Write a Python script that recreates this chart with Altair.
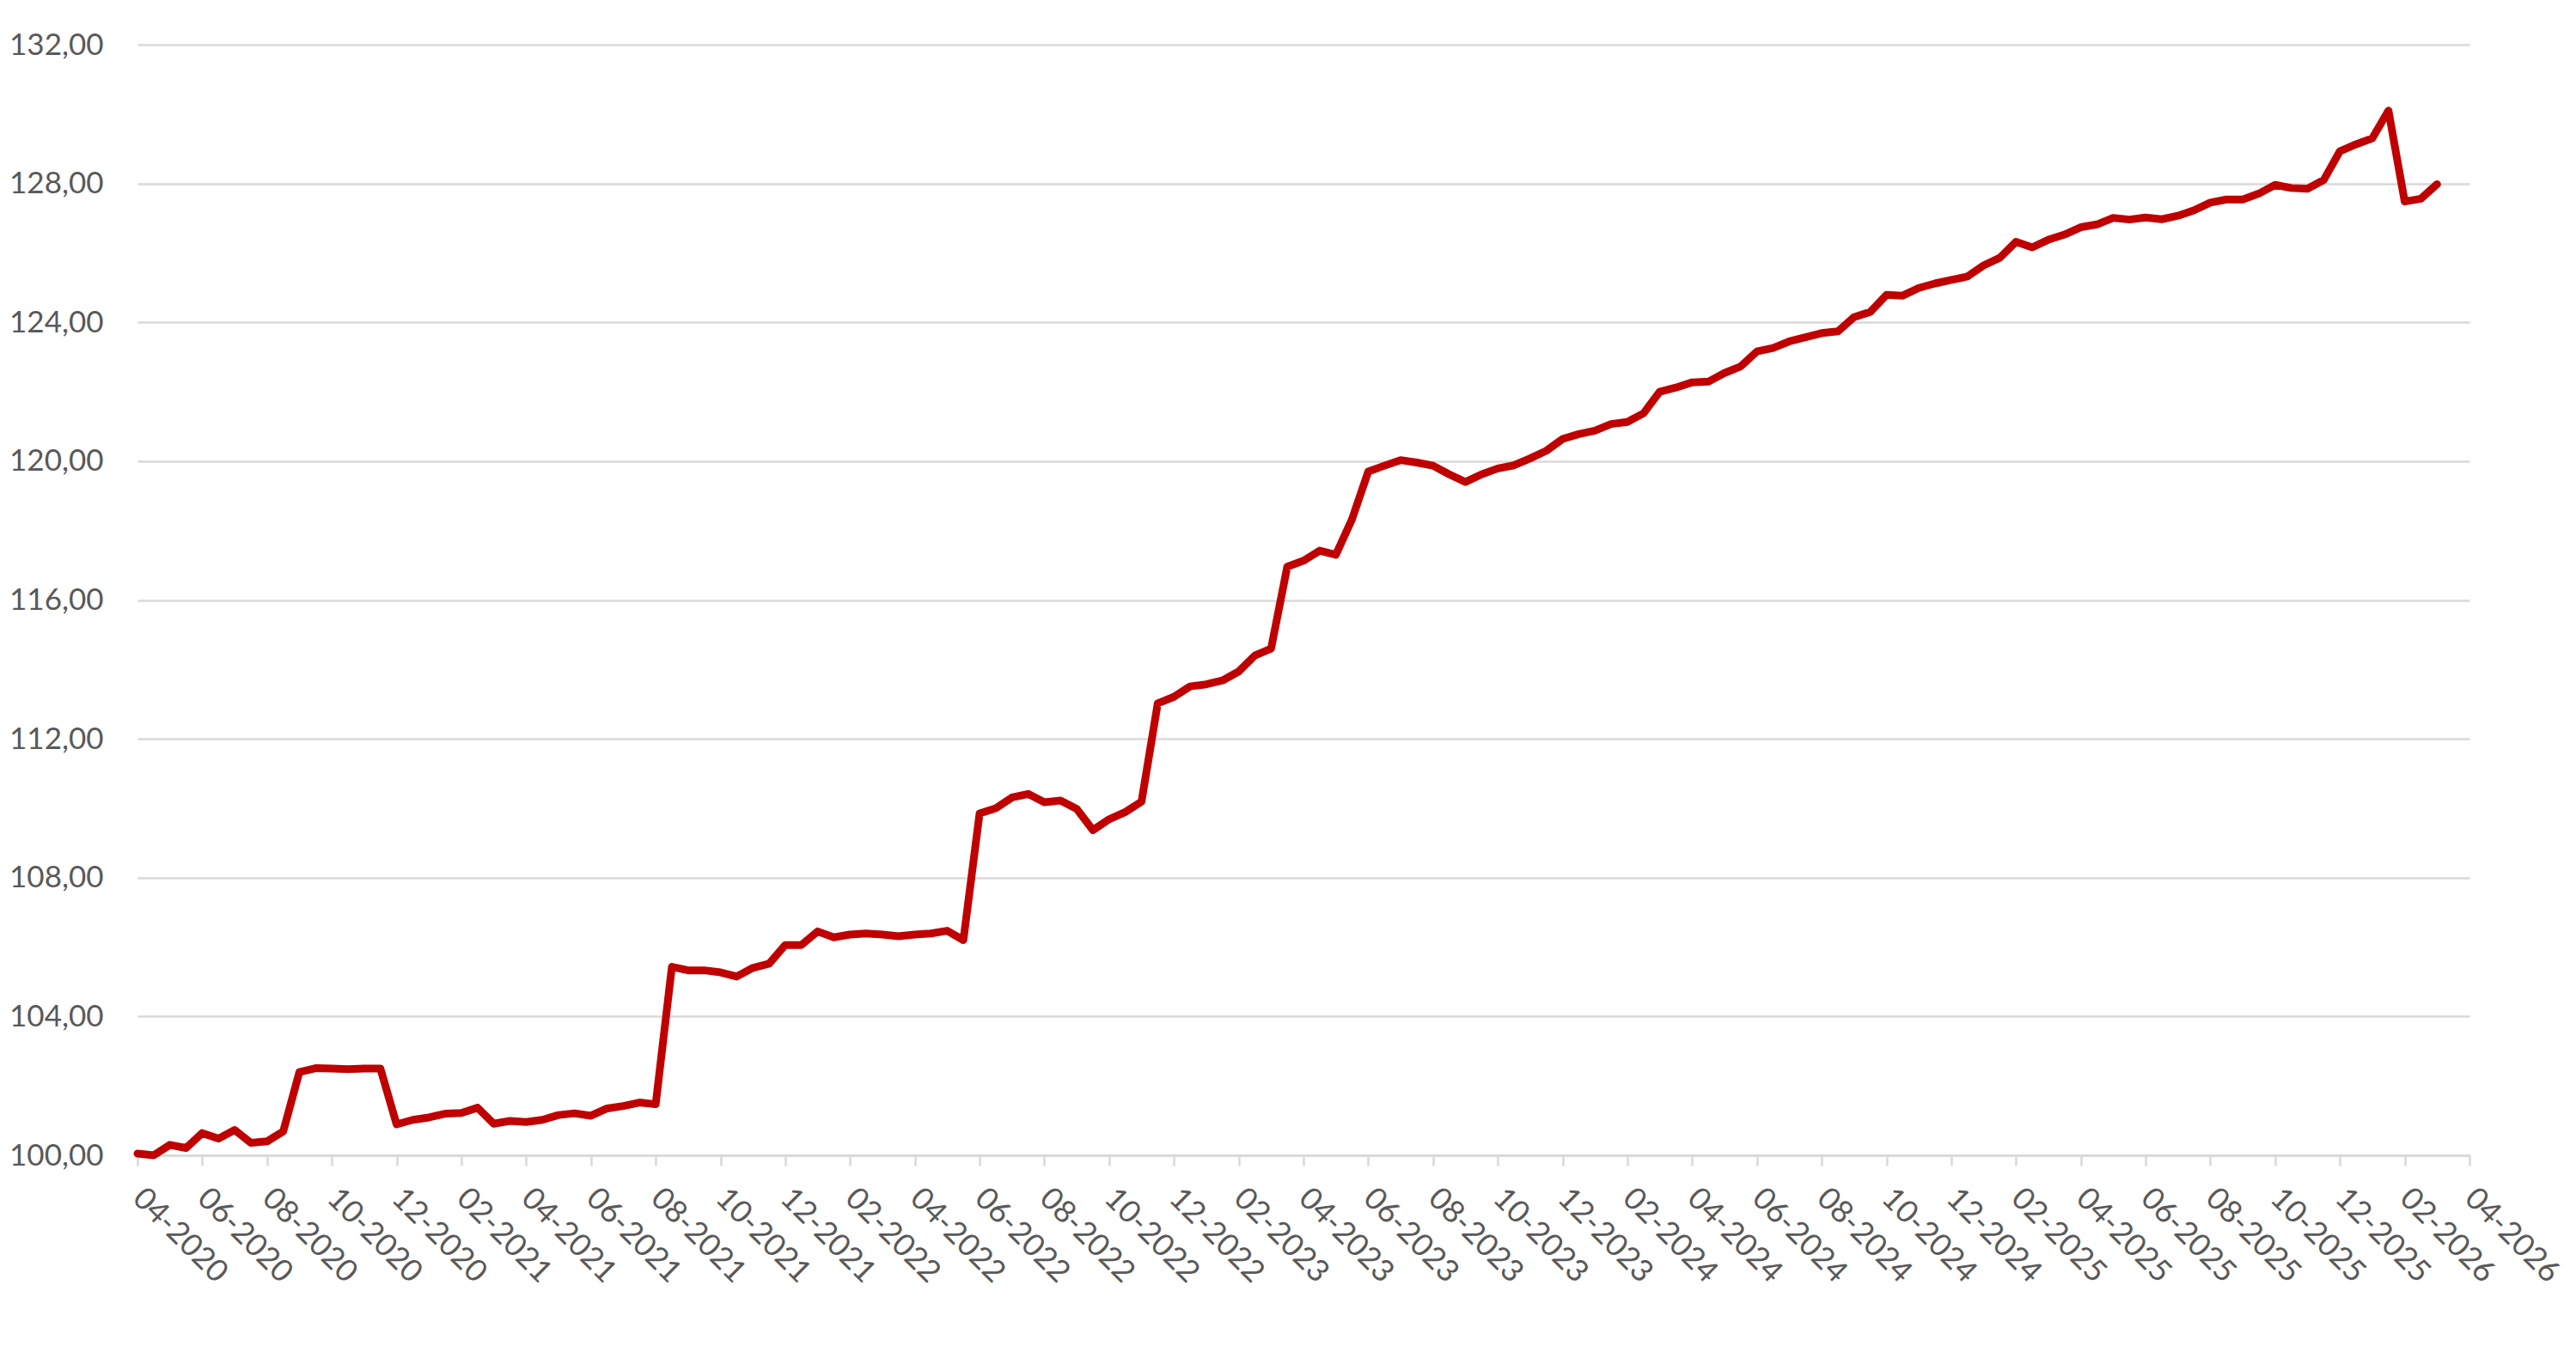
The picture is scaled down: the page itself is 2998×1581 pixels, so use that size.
import altair as alt
import pandas as pd

# x-axis tick labels (every 2 months)
tick_labels = [
    "04-2020", "06-2020", "08-2020", "10-2020", "12-2020",
    "02-2021", "04-2021", "06-2021", "08-2021", "10-2021", "12-2021",
    "02-2022", "04-2022", "06-2022", "08-2022", "10-2022", "12-2022",
    "02-2023", "04-2023", "06-2023", "08-2023", "10-2023", "12-2023",
    "02-2024", "04-2024", "06-2024", "08-2024", "10-2024", "12-2024",
    "02-2025", "04-2025", "06-2025", "08-2025", "10-2025", "12-2025",
    "02-2026", "04-2026",
]

# semi-monthly index values starting 04-2020
values = [
    100.05, 100.00, 100.30, 100.21, 100.64, 100.48, 100.73, 100.36, 100.40, 100.69,
    102.40, 102.51, 102.50, 102.48, 102.50, 102.50, 100.89, 101.02, 101.09, 101.20,
    101.22, 101.37, 100.91, 100.99, 100.96, 101.02, 101.16, 101.21, 101.14, 101.35,
    101.42, 101.52, 101.47, 105.43, 105.33, 105.33, 105.27, 105.15, 105.40, 105.52,
    106.06, 106.06, 106.45, 106.28, 106.36, 106.39, 106.36, 106.31, 106.36, 106.39,
    106.47, 106.20, 109.85, 110.00, 110.31, 110.41, 110.17, 110.22, 109.98, 109.37,
    109.68, 109.89, 110.19, 113.02, 113.21, 113.51, 113.57, 113.68, 113.94, 114.40,
    114.60, 116.96, 117.13, 117.42, 117.30, 118.33, 119.70, 119.87, 120.03, 119.96,
    119.87, 119.62, 119.40, 119.62, 119.79, 119.88, 120.08, 120.30, 120.64, 120.78,
    120.88, 121.07, 121.13, 121.38, 122.00, 122.12, 122.27, 122.29, 122.54, 122.73,
    123.16, 123.26, 123.45, 123.57, 123.69, 123.74, 124.15, 124.30, 124.79, 124.77,
    124.99, 125.12, 125.22, 125.32, 125.64, 125.86, 126.32, 126.16, 126.38, 126.53,
    126.74, 126.82, 127.01, 126.96, 127.02, 126.97, 127.07, 127.23, 127.45, 127.54,
    127.54, 127.71, 127.96, 127.87, 127.85, 128.10, 128.93, 129.13, 129.30, 130.10,
    127.48, 127.56, 127.98,
]

y_ticks = [100, 104, 108, 112, 116, 120, 124, 128, 132]

months = [i / 2 for i in range(len(values))]  # month offset from 04-2020
df = pd.DataFrame({"t": months, "v": values})

label_arr = "[" + ",".join("'" + s + "'" for s in tick_labels) + "]"
x_tick_pos = [2 * i for i in range(len(tick_labels))]

FONT = "Lato"
GRAY = "#d9d9d9"
TXT = "#595959"

chart = (
    alt.Chart(df)
    .mark_line(color="#C00000", strokeWidth=9, strokeJoin="round", strokeCap="round")
    .encode(
        x=alt.X(
            "t:Q",
            scale=alt.Scale(domain=[0, 72], nice=False, zero=False),
            axis=alt.Axis(
                values=x_tick_pos,
                labelExpr=label_arr + "[round(datum.value/2)]",
                labelAngle=45,
                labelAlign="left",
                labelBaseline="middle",
                grid=False,
                tickSize=12,
                tickColor=GRAY,
                tickWidth=2.5,
                domainColor=GRAY,
                domainWidth=2.5,
                labelFont=FONT,
                labelFontSize=36,
                labelColor=TXT,
                labelPadding=32,
                labelOverlap=False,
                labelFlush=False,
                title=None,
            ),
        ),
        y=alt.Y(
            "v:Q",
            scale=alt.Scale(domain=[100, 132], nice=False, zero=False),
            axis=alt.Axis(
                values=y_ticks,
                labelExpr="replace(format(datum.value, '.2f'), '.', ',')",
                grid=True,
                gridColor=GRAY,
                gridWidth=2.5,
                domain=False,
                ticks=False,
                labelFont=FONT,
                labelFontSize=35,
                labelColor=TXT,
                labelPadding=40,
                labelFlush=False,
                labelOverlap=False,
                title=None,
            ),
        ),
    )
    .properties(
        width=2714,
        height=1293,
        autosize="none",
        padding={"left": 152, "top": 44, "right": 116, "bottom": 210},
        background="white",
    )
    .configure_view(stroke=None)
)

chart.save("out.html", embed_options={"renderer": "svg", "actions": False})
